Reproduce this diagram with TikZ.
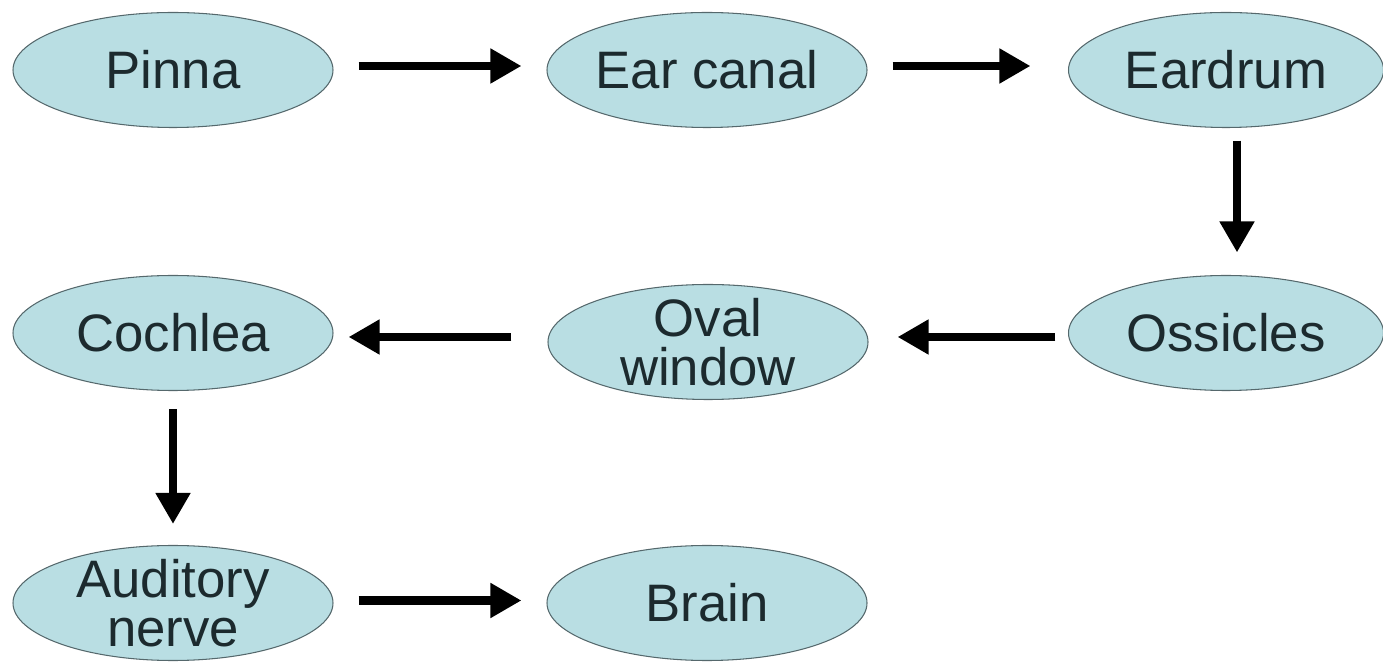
\documentclass[tikz,border=0pt]{standalone}
\usepackage{fontspec}
\setmainfont{Liberation Sans}
\usetikzlibrary{shapes.geometric,arrows.meta,positioning}
\definecolor{EarFill}{HTML}{B9DEE3}
\definecolor{EarLine}{HTML}{55686C}
\definecolor{EarText}{HTML}{1C2A2E}

\tikzset{
  part/.style={ellipse,draw=EarLine,line width=0.6pt,fill=EarFill,minimum width=6.4cm,minimum height=2.3cm,inner xsep=0pt,inner ysep=0pt,text=EarText,font=\fontsize{30}{28}\selectfont},
  twoline/.style={align=center,inner ysep=-0.45cm},
  flow/.style={-{Triangle[length=0.62cm,width=0.66cm]},line width=4.8pt,black,shorten <=0.5cm,shorten >=0.5cm}
}

\begin{document}
\begin{tikzpicture}
  \useasboundingbox (0,0) rectangle (27.66,13.28);
  % top row
  \node[part] (pinna) at (3.46,11.88) {Pinna};
  \node[part] (canal) at (14.14,11.88) {Ear canal};
  \node[part,minimum width=6.3cm] (drum) at (24.52,11.88) {Eardrum};
  % middle row
  \node[part] (cochlea) at (3.46,6.62) {Cochlea};
  \node[part,twoline] (oval) at (14.16,6.44) {Oval\\window};
  \node[part,minimum width=6.3cm] (ossicles) at (24.52,6.62) {Ossicles};
  % bottom row
  \node[part,twoline] (nerve) at (3.46,1.22) {Auditory\\nerve};
  \node[part] (brain) at (14.14,1.22) {Brain};

  \draw[flow] ([yshift=0.08cm]pinna.east) -- ([yshift=0.08cm]canal.west);
  \draw[flow,shorten >=0.75cm] ([yshift=0.08cm]canal.east) -- ([yshift=0.08cm]drum.west);
  \draw[flow,shorten <=0.25cm,shorten >=0.45cm] ([xshift=0.22cm]drum.south) -- ([xshift=0.22cm]ossicles.north);
  \draw[flow,shorten <=0.25cm,shorten >=0.58cm] ([yshift=-0.08cm]ossicles.west) -- ([yshift=-0.08cm]ossicles.west -| oval.east);
  \draw[flow,shorten <=0.72cm,shorten >=0.3cm] ([yshift=-0.08cm]ossicles.west -| oval.west) -- ([yshift=-0.08cm]cochlea.east);
  \draw[flow,shorten <=0.36cm,shorten >=0.42cm] (cochlea.south) -- (nerve.north);
  \draw[flow] ([yshift=0.05cm]nerve.east) -- ([yshift=0.05cm]brain.west);
\end{tikzpicture}
\end{document}
